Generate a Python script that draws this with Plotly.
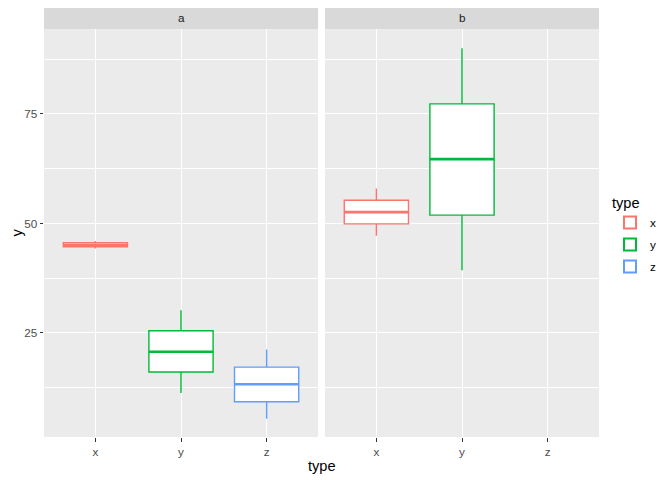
import plotly.graph_objects as go

# ---- data ----
facets = ["a", "b"]
types = ["x", "y", "z"]
colors = {"x": "#F8766D", "y": "#00BA38", "z": "#619CFF"}

# facet a: per type x, y, z
a_lower = [44.3, 11.3, 5.4]
a_q1 = [44.7, 16.1, 9.3]
a_median = [45.1, 20.7, 13.3]
a_q3 = [45.6, 25.5, 17.2]
a_upper = [46.0, 30.2, 21.2]

# facet b: per type x, y (no z data)
b_lower = [47.2, 39.3, None]
b_q1 = [49.9, 51.9, None]
b_median = [52.6, 64.7, None]
b_q3 = [55.3, 77.3, None]
b_upper = [58.0, 90.0, None]

y_major = [25, 50, 75]
y_minor = [12.5, 37.5, 62.5, 87.5]
y_range = [1.25, 94.4]

BOX_W = 0.75
FONT = "Liberation Sans, Arial, sans-serif"

fig = go.Figure()

facet_data = {
    "a": (a_lower, a_q1, a_median, a_q3, a_upper),
    "b": (b_lower, b_q1, b_median, b_q3, b_upper),
}
shown = set()
for fi, f in enumerate(facets):
    lo, q1, med, q3, hi = facet_data[f]
    xa = "x" if fi == 0 else "x2"
    ya = "y" if fi == 0 else "y2"
    for ti, t in enumerate(types):
        if med[ti] is None:
            continue
        pos = ti + 1
        fig.add_trace(go.Box(
            x=[pos], q1=[q1[ti]], median=[med[ti]], q3=[q3[ti]],
            lowerfence=[lo[ti]], upperfence=[hi[ti]],
            width=BOX_W, whiskerwidth=0,
            fillcolor="white", line=dict(color=colors[t], width=1.4),
            name=t, legendgroup=t, showlegend=t not in shown,
            boxpoints=False, hoverinfo="skip",
            xaxis=xa, yaxis=ya,
        ))
        shown.add(t)
        # thicker median line (ggplot fatten = 2)
        fig.add_trace(go.Scatter(
            x=[pos - BOX_W / 2, pos + BOX_W / 2], y=[med[ti], med[ti]],
            mode="lines", line=dict(color=colors[t], width=2.6),
            showlegend=False, hoverinfo="skip", xaxis=xa, yaxis=ya,
        ))

# geometry: the page offsets the figure by an 8px body margin
OFF = 8
W, H = 672 - OFF, 480 - OFF
left_page, right_page = 44, 599
top_page, bottom_page = OFF, 437
L = left_page - OFF
R = OFF + W - right_page
T = top_page - OFF
B = OFF + H - bottom_page
pw = W - L - R
ph = H - T - B


def px(xp):
    return (xp - left_page) / pw


def py(yp):
    return (bottom_page - yp) / ph


ydom_top = py(29)
xa_dom = [px(44), px(318)]
xb_dom = [px(325), px(599)]

xaxis_common = dict(
    range=[0.4, 3.6], tickvals=[1, 2, 3], ticktext=types,
    showgrid=True, gridcolor="white", gridwidth=1.1,
    ticks="outside", ticklen=3.5, tickcolor="#333333", tickwidth=1.1,
    tickfont=dict(family=FONT, size=11.7, color="#4D4D4D"),
    showline=False, zeroline=False, fixedrange=True,
)
yaxis_common = dict(
    range=y_range, tickvals=y_major,
    showgrid=True, gridcolor="white", gridwidth=1.1,
    minor=dict(tickvals=y_minor, showgrid=True, gridcolor="white", gridwidth=0.55, ticks=""),
    zeroline=False, showline=False, fixedrange=True,
    domain=[0, ydom_top],
)

fig.update_layout(
    width=W, height=H,
    margin=dict(l=L, r=R, t=T, b=B),
    paper_bgcolor="white", plot_bgcolor="#EBEBEB",
    font=dict(family=FONT, color="#1A1A1A"),
    xaxis=dict(domain=xa_dom, anchor="y", **xaxis_common),
    xaxis2=dict(domain=xb_dom, anchor="y2", **xaxis_common),
    yaxis=dict(anchor="x", ticks="outside", ticklen=3.5, tickcolor="#333333", tickwidth=1.1,
               tickfont=dict(family=FONT, size=11.7, color="#4D4D4D"), **yaxis_common),
    yaxis2=dict(anchor="x2", showticklabels=False, ticks="", matches="y", **yaxis_common),
    boxmode="overlay",
    legend=dict(
        x=px(610), xanchor="left", y=py(235), yanchor="middle",
        title=dict(text="type", font=dict(family=FONT, size=14.6, color="#000000")),
        font=dict(family=FONT, size=11.7, color="#000000"),
        bgcolor="white", itemsizing="constant", tracegroupgap=3,
    ),
    showlegend=True,
)

# strips
for dom, label in zip([xa_dom, xb_dom], facets):
    fig.add_shape(type="rect", xref="paper", yref="paper",
                  x0=dom[0], x1=dom[1], y0=ydom_top, y1=1,
                  fillcolor="#D9D9D9", line=dict(width=0), layer="below")
    fig.add_annotation(x=(dom[0] + dom[1]) / 2, y=py(18),
                       xref="paper", yref="paper", text=label, showarrow=False,
                       font=dict(family=FONT, size=11.7, color="#1A1A1A"),
                       xanchor="center", yanchor="middle")

# axis titles
fig.add_annotation(x=px(321.5), y=py(466), xref="paper", yref="paper",
                   text="type", showarrow=False, xanchor="center", yanchor="middle",
                   font=dict(family=FONT, size=14.6, color="#000000"))
fig.add_annotation(x=px(16.5), y=py(233), xref="paper", yref="paper",
                   text="y", showarrow=False, textangle=-90, xanchor="center", yanchor="middle",
                   borderpad=0,
                   font=dict(family=FONT, size=14.6, color="#000000"))

fig.write_html("out.html")
